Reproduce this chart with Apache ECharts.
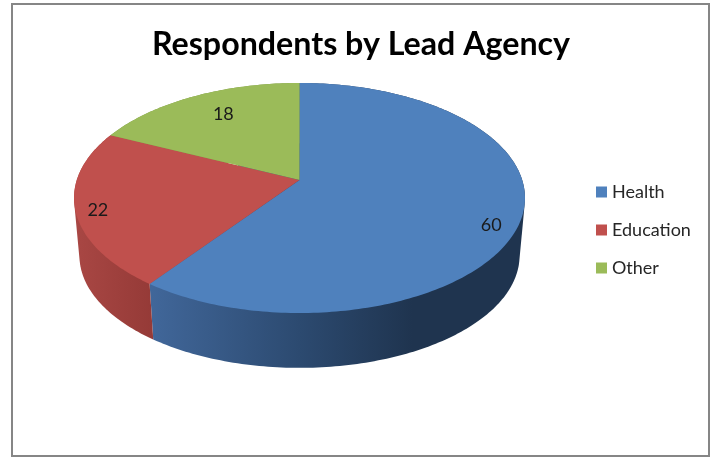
<!DOCTYPE html>
<html>
<head>
<meta charset="utf-8">
<style>html,body{margin:0;padding:0;background:#fff}#c{width:715px;height:457px}</style>
<script src="https://cdn.jsdelivr.net/npm/echarts@6/dist/echarts.min.js"></script>
</head>
<body>
<div id="c"></div>
<script>
const titleText = 'Respondents by Lead Agency';
const categories = ['Health', 'Education', 'Other'];
const values = [60, 22, 18];
const colors = ['#4f81bd', '#c0504d', '#9bbb59'];

// Projection of the tilted disc (layout, not data)
const PIE = { cx: 299.5, apexY: 180, a: 222.7, b: 112.2, k: 0.1566, wallScale: 0.976, wallApexY: 238 };
const labelRadius = 0.85;
const labelNudge = [[4, 14], [-12, 6], [15, 7]];
const wallFills = [
  new echarts.graphic.LinearGradient(0, 0, 1, 0, [
    { offset: 0, color: '#41679a' }, { offset: 0.4, color: '#2c4a70' },
    { offset: 0.7, color: '#1f344f' }, { offset: 1, color: '#1f344f' }]),
  new echarts.graphic.LinearGradient(0, 0, 1, 0, [
    { offset: 0, color: '#a94744' }, { offset: 1, color: '#953a37' }]),
  '#7c9648'
];

const total = values.reduce((s, v) => s + v, 0);
function project(theta, r, apexY, scale) {
  const u = Math.sin(theta) * r, v = Math.cos(theta) * r, w = 1 + PIE.k * v;
  return [PIE.cx + scale * PIE.a * u / w, apexY - scale * PIE.b * v / w];
}
function arc(from, to, apexY, scale) {
  const pts = [], n = Math.max(2, Math.ceil((to - from) / (Math.PI / 180)));
  for (let i = 0; i <= n; i++) pts.push(project(from + (to - from) * i / n, 1, apexY, scale));
  return pts;
}
// Outline of a slice's extruded side: the convex hull of its upper and lower rims.
function hull(points) {
  const p = points.slice().sort((a, b) => a[0] - b[0] || a[1] - b[1]);
  const cross = (o, a, b) => (a[0] - o[0]) * (b[1] - o[1]) - (a[1] - o[1]) * (b[0] - o[0]);
  const half = list => {
    const h = [];
    for (const q of list) {
      while (h.length > 1 && cross(h[h.length - 2], h[h.length - 1], q) <= 0) h.pop();
      h.push(q);
    }
    h.pop();
    return h;
  };
  return half(p).concat(half(p.slice().reverse()));
}

const series = categories.map((name, idx) => ({
  type: 'custom',
  name,
  coordinateSystem: 'none',
  itemStyle: { color: colors[idx] },
  silent: true,
  data: [values[idx]],
  renderItem(params, api) {
    const before = values.slice(0, idx).reduce((s, v) => s + v, 0);
    const start = before / total * 2 * Math.PI;
    const end = (before + api.value(0)) / total * 2 * Math.PI;
    const topArc = arc(start, end, PIE.apexY, 1);
    const wallArc = arc(start, end, PIE.wallApexY, PIE.wallScale);
    const lp = project((start + end) / 2, labelRadius, PIE.apexY, 1);
    return {
      type: 'group',
      children: [
        { type: 'polygon', z2: 1, shape: { points: hull(topArc.concat(wallArc)) }, style: { fill: wallFills[idx] } },
        { type: 'polygon', z2: 5, shape: { points: [[PIE.cx, PIE.apexY]].concat(topArc) }, style: { fill: colors[idx] } },
        { type: 'text', z2: 10, style: {
            x: lp[0] + labelNudge[idx][0], y: lp[1] + labelNudge[idx][1],
            text: String(api.value(0)), fill: '#1a1a1a', font: '18px Lato', align: 'center', verticalAlign: 'middle' } }
      ]
    };
  }
}));

const chart = echarts.init(document.getElementById('c'), null, { renderer: 'canvas' });
chart.setOption({
  animation: false,
  backgroundColor: '#ffffff',
  title: {
    text: titleText, left: 356, top: 24, textAlign: 'center',
    textStyle: { fontFamily: 'Lato', fontWeight: 'bold', fontSize: 32.2, color: '#000000' }
  },
  legend: {
    data: categories, orient: 'vertical', left: 591, top: 178, icon: 'rect',
    itemWidth: 11, itemHeight: 11, itemGap: 20,
    textStyle: { fontFamily: 'Lato', fontSize: 18, color: '#262626', padding: [0, 0, 0, 0], lineHeight: 18 },
    selectedMode: false
  },
  graphic: [{
    type: 'rect', silent: true, z: -1,
    shape: { x: 12, y: 4, width: 697, height: 452 },
    style: { fill: 'none', stroke: '#868686', lineWidth: 2 }
  }],
  series
});
</script>
</body>
</html>
